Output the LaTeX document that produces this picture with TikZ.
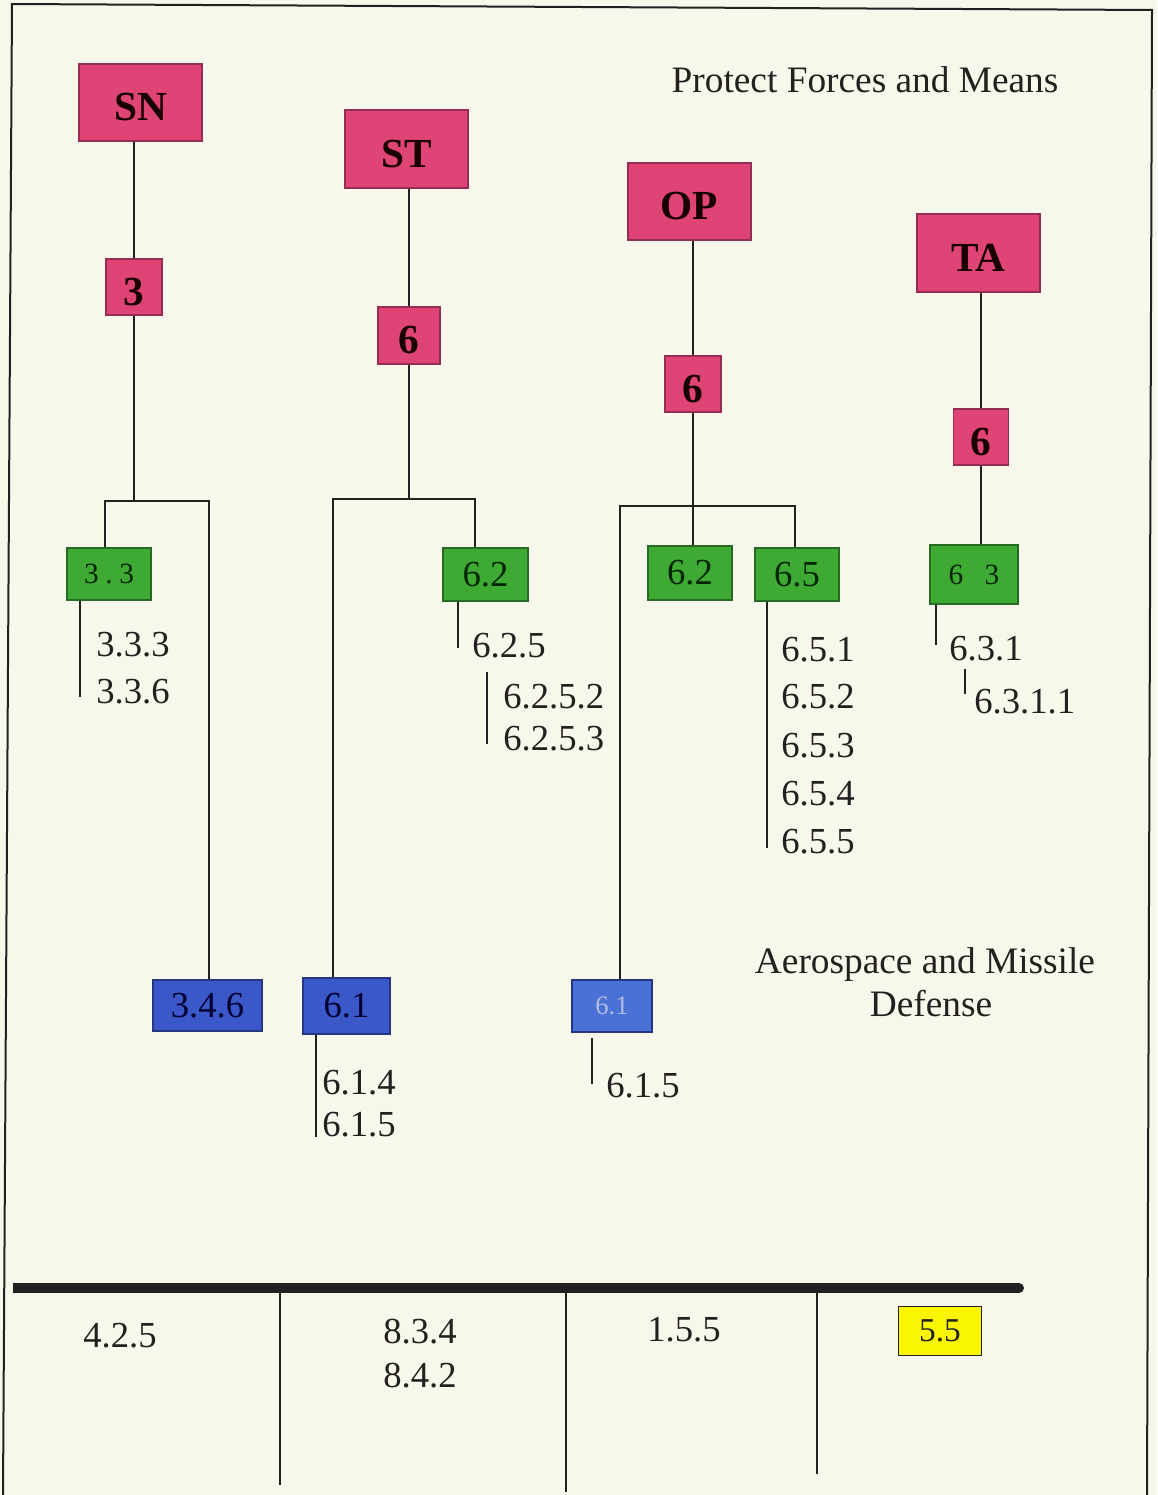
\documentclass[tikz,border=0pt]{standalone}
\usepackage{fontspec}
\setmainfont{Liberation Serif}
\definecolor{bgc}{RGB}{248,247,236}
\definecolor{pinkc}{RGB}{222,68,118}
\definecolor{pinkd}{RGB}{150,45,85}
\definecolor{greenc}{RGB}{62,170,52}
\definecolor{greend}{RGB}{40,105,35}
\definecolor{bluec}{RGB}{58,88,200}
\definecolor{bluel}{RGB}{74,114,214}
\definecolor{blued}{RGB}{38,55,130}
\definecolor{bluetxt}{RGB}{178,188,226}
\definecolor{yelc}{RGB}{250,245,0}
\definecolor{inkc}{RGB}{35,32,32}
\newcommand\labfont{\fontsize{27.5}{30}\selectfont}
\newcommand\capfont{\fontsize{28}{31}\selectfont}
\begin{document}
\begin{tikzpicture}[x=0.75pt,y=-0.75pt,
  ln/.style={draw=inkc,line width=1.3pt},
  pinkbox/.style={draw=pinkd,fill=pinkc,line width=0.8pt,inner sep=0pt,text=black!90!red,
    text height=27pt,text depth=0pt,font=\bfseries\fontsize{31}{34}\selectfont},
  greenbox/.style={draw=greend,fill=greenc,line width=0.8pt,inner sep=0pt,text=black!85!green,
    font=\fontsize{27.5}{30}\selectfont},
  bluebox/.style={draw=blued,fill=bluec,line width=0.8pt,inner sep=0pt,text=blue!20!black,
    font=\fontsize{27.5}{30}\selectfont},
  lbl/.style={inner sep=0pt,anchor=west,text=inkc,font=\labfont},
  clbl/.style={inner sep=0pt,text=inkc,font=\labfont}]
\useasboundingbox (0,0) rectangle (1157,1495);
\fill[bgc] (0,0) rectangle (1157,1495);
% frame
\draw[draw=inkc,line width=1.5pt] (3,1495) -- (12,4) -- (1152,10) -- (1147,1495);

% titles
\node[inner sep=0pt,anchor=base,text=inkc,font=\capfont] (t1) at (865,93) {Protect Forces and Means};
\node[inner sep=0pt,anchor=base,text=inkc,font=\capfont] (t2) at (925,973) {Aerospace and Missile};
\node[inner sep=0pt,anchor=base,text=inkc,font=\capfont] (t3) at (931,1016) {Defense};

% top-level boxes
\node[pinkbox,minimum width=92.25pt,minimum height=57.75pt] (SN) at (140.5,102.5) {SN};
\node[pinkbox,minimum width=92.25pt,minimum height=58.5pt] (ST) at (406.5,149) {ST};
\node[pinkbox,minimum width=92.25pt,minimum height=57.75pt] (OP) at (689.5,201.5) {OP};
\node[pinkbox,minimum width=92.25pt,minimum height=58.5pt] (TA) at (978.5,253) {TA};

\node[pinkbox,minimum width=42pt,minimum height=42pt] (s3) at (134,287) {3};
\node[pinkbox,minimum width=46.5pt,minimum height=42.75pt] (st6) at (409,335.5) {6};
\node[pinkbox,minimum width=42pt,minimum height=42pt] (op6) at (693,384) {6};
\node[pinkbox,minimum width=41.25pt,minimum height=42pt] (ta6) at (981,437) {6};

% green boxes
\node[greenbox,minimum width=63pt,minimum height=39pt,font=\fontsize{22}{24}\selectfont] (g33) at (109,574) {3\hspace{5pt}.\hspace{5pt}3};
\node[greenbox,minimum width=63.75pt,minimum height=39.75pt] (g62a) at (485.5,574.5) {6.2};
\node[greenbox,minimum width=63pt,minimum height=40.5pt] (g62b) at (690,573) {6.2};
\node[greenbox,minimum width=63pt,minimum height=39.75pt] (g65) at (797,574.5) {6.5};
\node[greenbox,minimum width=66pt,minimum height=44.25pt,font=\fontsize{22}{24}\selectfont] (g63) at (974,574.5) {6\hspace{16pt}3};

% blue boxes
\node[bluebox,minimum width=81.75pt,minimum height=38.25pt] (b346) at (207.5,1005.5) {3.4.6};
\node[bluebox,minimum width=65.25pt,minimum height=42pt] (b61a) at (346.5,1006) {6.1};
\node[bluebox,fill=bluel,minimum width=60pt,minimum height=39pt,text=bluetxt,font=\fontsize{20}{22}\selectfont] (b61b) at (612,1006) {6.1};

% SN connectors
\coordinate (snL) at (105,501);
\coordinate (snR) at (209,501);
\draw[ln] (s3.north) -- (s3.north |- SN.south);
\draw[ln] (s3.south) -- (s3.south |- snL);
\draw[ln] (g33.north -| snL) -- (snL) -- (snR) -- (b346.north -| snR);

% ST connectors
\coordinate (stL) at (333,499);
\coordinate (stR) at (475,499);
\draw[ln] (st6.north) -- (st6.north |- ST.south);
\draw[ln] (st6.south) -- (st6.south |- stL);
\draw[ln] (b61a.north -| stL) -- (stL) -- (stR) -- (g62a.north -| stR);

% OP connectors
\coordinate (opL) at (620,506);
\coordinate (opR) at (795,506);
\draw[ln] (op6.north) -- (op6.north |- OP.south);
\draw[ln] (op6.south) -- (op6.south |- opL);
\draw[ln] (op6.south |- g62b.north) -- (op6.south |- opL);
\draw[ln] (b61b.north -| opL) -- (opL) -- (opR) -- (g65.north -| opR);

% TA connectors
\draw[ln] (ta6.north) -- (ta6.north |- TA.south);
\draw[ln] (ta6.south) -- (ta6.south |- g63.north);

% sub-lists
\coordinate (c33) at (80,697);
\draw[ln,line width=1pt] (g33.south -| c33) -- (c33);
\node[lbl] (n333) at (96,645) {3.3.3};
\node[lbl] (n336) at (96,692) {3.3.6};

\coordinate (c625) at (458,648);
\draw[ln,line width=1pt] (g62a.south -| c625) -- (c625);
\node[lbl] (n625) at (472,646) {6.2.5};
\coordinate (c6252a) at (487,672);
\coordinate (c6252b) at (487,744);
\draw[ln,line width=1pt] (c6252a) -- (c6252b);
\node[lbl] (n6252) at (503,697) {6.2.5.2};
\node[lbl] (n6253) at (503,739) {6.2.5.3};

\coordinate (c65) at (767,848);
\draw[ln,line width=1pt] (g65.south -| c65) -- (c65);
\node[lbl] (n651) at (781,650) {6.5.1};
\node[lbl] (n652) at (781,697) {6.5.2};
\node[lbl] (n653) at (781,746) {6.5.3};
\node[lbl] (n654) at (781,794) {6.5.4};
\node[lbl] (n655) at (781,842) {6.5.5};

\coordinate (c63) at (936,645);
\draw[ln,line width=1pt] (g63.south -| c63) -- (c63);
\node[lbl] (n631) at (949,649) {6.3.1};
\coordinate (c6311a) at (965,669);
\coordinate (c6311b) at (965,694);
\draw[ln,line width=1pt] (c6311a) -- (c6311b);
\node[lbl] (n6311) at (974,702) {6.3.1.1};

\coordinate (c61a) at (316,1137);
\draw[ln,line width=1pt] (b61a.south -| c61a) -- (c61a);
\node[lbl] (n614) at (322,1083) {6.1.4};
\node[lbl] (n615a) at (322,1125) {6.1.5};

\coordinate (c61ba) at (592,1038);
\coordinate (c61bb) at (592,1084);
\draw[ln,line width=1pt] (c61ba) -- (c61bb);
\node[lbl] (n615b) at (606,1086) {6.1.5};

% bottom bar
\coordinate (barL) at (13,1288);
\coordinate (barR) at (1019,1288);
\draw[draw=inkc,line width=7.5pt] (barL) -- (barR);
\fill[inkc] (barR) circle (5);
\coordinate (v1t) at (280,1293); \coordinate (v1b) at (280,1485);
\coordinate (v2t) at (566,1293); \coordinate (v2b) at (566,1492);
\coordinate (v3t) at (817,1293); \coordinate (v3b) at (817,1474);
\draw[ln,line width=1pt] (v1t) -- (v1b);
\draw[ln,line width=1pt] (v2t) -- (v2b);
\draw[ln,line width=1pt] (v3t) -- (v3b);

\node[clbl] (b425) at (120,1336) {4.2.5};
\node[clbl] (b834) at (420,1332) {8.3.4};
\node[clbl] (b842) at (420,1376) {8.4.2};
\node[clbl] (b155) at (684,1330) {1.5.5};
\node[draw=inkc,fill=yelc,line width=0.8pt,inner sep=0pt,minimum width=62.25pt,minimum height=36.75pt,
  text=inkc,font=\fontsize{25}{28}\selectfont] (y55) at (940,1331) {5.5};
\end{tikzpicture}
\end{document}
